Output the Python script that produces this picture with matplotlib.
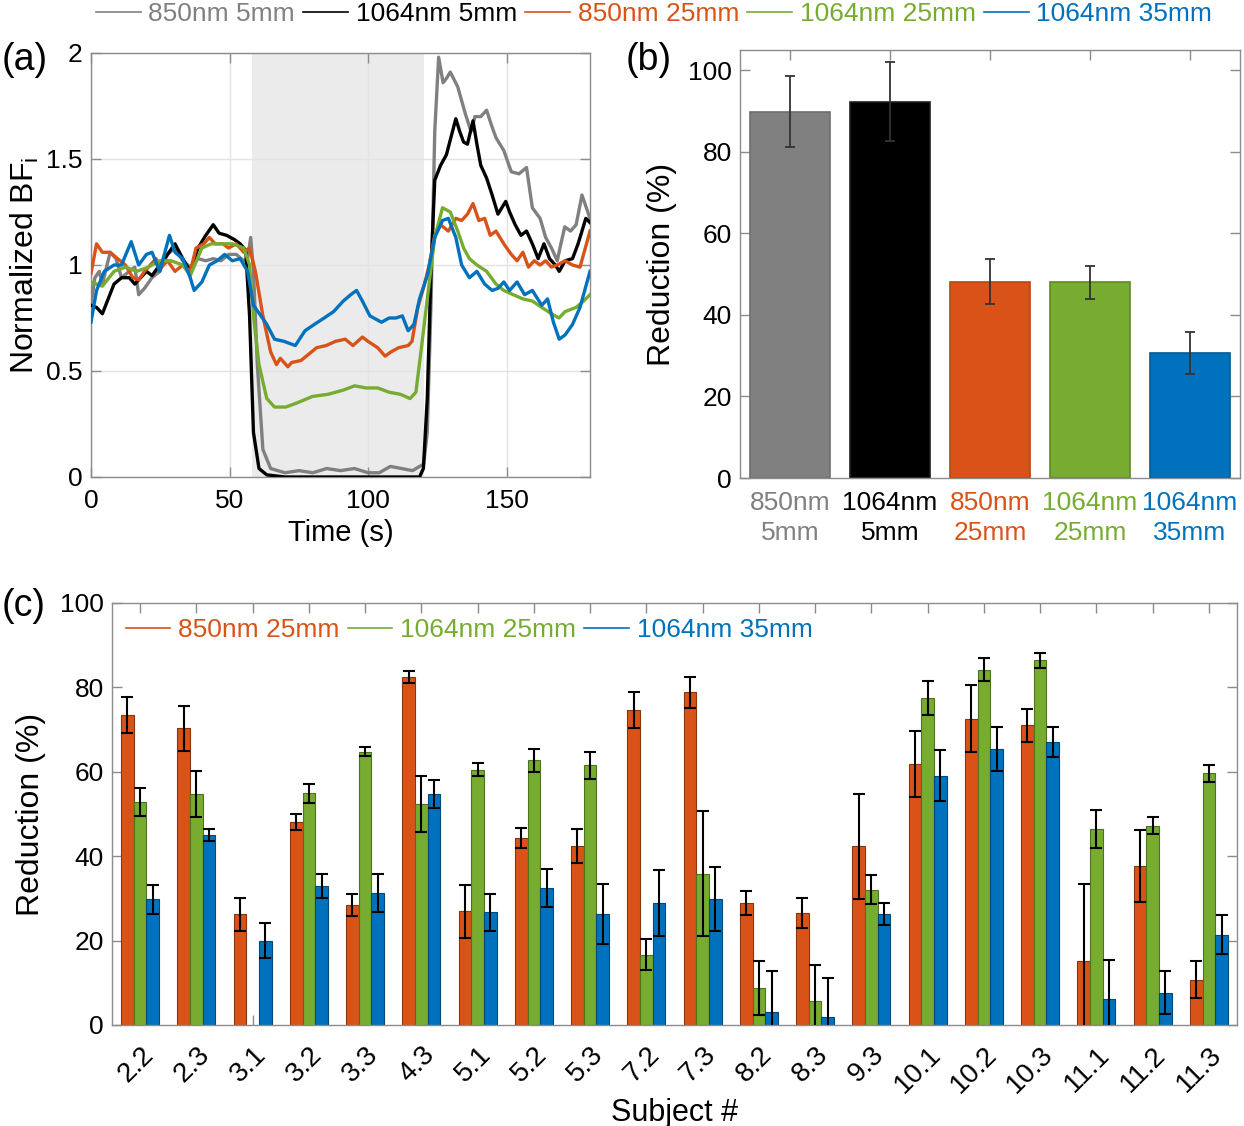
import numpy as np
import matplotlib
matplotlib.use("Agg")
import matplotlib.pyplot as plt
from matplotlib.lines import Line2D

plt.rcParams['font.family'] = ['Liberation Sans', 'DejaVu Sans']
plt.rcParams['mathtext.fontset'] = 'custom'
plt.rcParams['mathtext.rm'] = 'Liberation Sans'

# ---- colours (MATLAB-like)
GRAY = '#808080'
BLACK = '#000000'
ORANGE = '#D95319'
GREEN = '#77AC30'
BLUE = '#0072BD'

# ---- panel (a): normalized BFi time courses
gray_t = [0, 1.4, 3, 4.1, 6.9, 9, 11, 13.8, 15.8, 17.2, 19.3, 22, 24.8, 27.6, 30.3, 33.1, 35.8, 38.6, 41.4, 44.1,
          46.9, 49.6, 52.4, 55.1, 56.5, 57.6, 58.6, 60, 62, 64.8, 70, 75, 80, 85, 90, 95, 100, 104, 108, 112,
          116, 118.5, 120, 121.3, 122.7, 124, 125.4, 127, 128.2, 129.6, 132.3, 135.1, 137.1, 138.5, 140.6, 142.7,
          144.7, 146.1, 148.9, 151.6, 154.4, 157.1, 159.2, 162, 164, 166.1, 168.2, 169.5, 170.9, 173, 175, 177.1, 180]
gray_v = [0.81, 0.94, 0.97, 0.91, 1.06, 1.03, 0.94, 0.97, 0.99, 0.86, 0.89, 0.94, 0.97, 1.05, 1.08, 1.02, 0.99, 1.03, 1.02, 1.03,
          1.02, 1.05, 1.05, 1.02, 1.03, 1.13, 0.97, 0.53, 0.13, 0.04, 0.02, 0.03, 0.02, 0.04, 0.03, 0.04, 0.02, 0.02, 0.05, 0.04,
          0.03, 0.05, 0.06, 0.21, 0.84, 1.63, 1.98, 1.86, 1.88, 1.91, 1.84, 1.71, 1.63, 1.70, 1.70, 1.73,
          1.65, 1.60, 1.54, 1.44, 1.43, 1.46, 1.27, 1.22, 1.13, 1.08, 1.02, 1.10, 1.18, 1.16, 1.19, 1.33, 1.22]

black_t = [0, 2, 4.1, 6.2, 8.3, 11, 13.8, 15.8, 17.9, 20, 22, 24.8, 27.6, 30.3, 33.1, 35.8, 38.6, 41.4, 44.1, 46.2,
           48.9, 51.7, 53.8, 55.8, 57.2, 58.6, 60.6, 63.4, 70, 80, 90, 100, 110, 118.5, 119.9, 121.3, 122.7, 124, 126.1, 128.2,
           130.2, 131.6, 133, 134.4, 135.8, 137.8, 139.2, 140.6, 142.7, 144.7, 146.8, 148.2, 149.6, 151, 153, 155.1, 157.1,
           159.2, 161.3, 163.4, 165.4, 167.5, 168.9, 171, 173.7, 175.7, 178.5, 180]
black_v = [0.81, 0.80, 0.77, 0.84, 0.91, 0.94, 0.94, 0.91, 0.94, 0.97, 0.95, 1.0, 1.05, 1.10, 1.03, 0.97, 1.08, 1.14, 1.19, 1.15,
           1.14, 1.12, 1.10, 1.07, 0.76, 0.21, 0.04, 0.01, 0.0, 0.0, 0.0, 0.0, 0.0, 0.0, 0.04, 0.37, 1.0, 1.40, 1.47, 1.52,
           1.62, 1.69, 1.63, 1.58, 1.57, 1.68, 1.57, 1.47, 1.41, 1.33, 1.24, 1.27, 1.30, 1.25, 1.19, 1.14, 1.16,
           1.10, 1.03, 1.10, 1.03, 1.0, 0.97, 1.02, 1.03, 1.10, 1.22, 1.20]

orange_t = [0, 2, 4.1, 6.9, 9.6, 12.4, 15.1, 17.2, 19.3, 21.4, 23.4, 25.5, 27.6, 30.3, 33.1, 35.8, 37.9, 40.7, 42.7, 44.8,
            47.6, 49.6, 52.4, 55.1, 57.2, 59.3, 62, 64.8, 66.9, 68.3, 71, 72.4, 75.8, 78.6, 81.4, 84.8, 88.2, 91.7, 94.5, 97.9,
            99.9, 103.4, 106.1, 108.2, 111, 114.4, 115.8, 117.9, 119.9, 122, 124, 126.1, 128.9, 131.6, 133.7, 135.8, 137.8,
            139.9, 142, 144, 146.1, 148.9, 151.6, 153.7, 155.8, 157.8, 159.9, 162, 164, 166.1, 168.2, 171, 173.7, 176.4, 180]
orange_v = [0.96, 1.10, 1.06, 1.06, 1.03, 1.0, 0.94, 0.93, 0.97, 1.0, 1.03, 0.99, 1.02, 0.97, 1.0, 0.97, 1.08, 1.10, 1.13, 1.10,
            1.10, 1.08, 1.10, 1.06, 1.08, 0.97, 0.76, 0.59, 0.53, 0.56, 0.52, 0.54, 0.55, 0.58, 0.61, 0.62, 0.64, 0.65, 0.62, 0.66,
            0.64, 0.61, 0.57, 0.59, 0.61, 0.62, 0.64, 0.80, 0.89, 1.0, 1.14, 1.19, 1.16, 1.22, 1.21, 1.24, 1.29,
            1.21, 1.22, 1.14, 1.16, 1.10, 1.05, 1.02, 1.06, 0.99, 1.02, 1.0, 1.02, 0.99, 1.0, 1.02, 1.0, 0.99, 1.16]

green_t = [0, 4.1, 8.3, 12.4, 16.5, 20.7, 24.8, 28.9, 33.1, 35.8, 40, 43.4, 47.2, 51, 55.1, 57.2, 58.6, 60.6, 63.4, 66.2,
           70.3, 74.4, 79.9, 85.5, 91, 95.1, 99.2, 103.4, 107.5, 111.6, 115.1, 117.2, 119.2, 121.3, 124, 126.8, 129.6,
           132.3, 134.4, 136.5, 139.2, 142.7, 146.1, 148.9, 152.3, 155.8, 159.2, 162.6, 166.1, 168.8, 171, 175, 177.7, 180]
green_v = [0.92, 0.90, 0.97, 0.99, 0.97, 0.99, 1.02, 1.02, 1.0, 0.95, 1.08, 1.10, 1.10, 1.10, 1.08, 1.0, 0.76, 0.53, 0.37, 0.33,
           0.33, 0.35, 0.38, 0.39, 0.41, 0.43, 0.42, 0.42, 0.40, 0.39, 0.37, 0.40, 0.61, 0.84, 1.13, 1.27, 1.25,
           1.16, 1.08, 1.03, 1.0, 0.97, 0.91, 0.88, 0.86, 0.84, 0.83, 0.80, 0.77, 0.75, 0.78, 0.80, 0.83, 0.86]

blue_t = [0, 2, 4.8, 8.3, 11, 14.5, 17.2, 20, 22, 24.8, 28.3, 30.3, 33.1, 35.8, 37.2, 40, 42.7, 45.5, 48.2, 51,
          53.8, 56.5, 58.6, 61.3, 63.4, 66.2, 69.6, 73.7, 77.2, 80.6, 84.1, 87.5, 91, 93.7, 95.8, 97.9, 100.6, 104.8, 107.5, 110,
          112.3, 114.4, 116.5, 118.5, 121.3, 124, 126.8, 128.9, 131.6, 133.7, 136.5, 139.2, 142, 144.7, 146.8, 148.9,
          151, 153.7, 156.4, 159.2, 162.6, 164.7, 166.8, 168.9, 171, 173.7, 176.4, 180]
blue_v = [0.73, 0.88, 0.97, 1.0, 1.0, 1.11, 1.0, 1.05, 1.06, 0.97, 1.14, 1.06, 1.03, 0.94, 0.88, 0.92, 1.0, 1.02, 1.05, 1.02,
          1.03, 0.97, 0.81, 0.76, 0.72, 0.65, 0.64, 0.62, 0.69, 0.72, 0.75, 0.78, 0.83, 0.86, 0.88, 0.83, 0.76, 0.73, 0.75, 0.75,
          0.76, 0.69, 0.72, 0.84, 0.95, 1.13, 1.21, 1.22, 1.13, 1.0, 0.94, 0.97, 0.91, 0.88, 0.89, 0.92,
          0.88, 0.92, 0.86, 0.88, 0.81, 0.84, 0.73, 0.65, 0.67, 0.72, 0.80, 0.97]

occlusion = (58, 120)

# ---- panel (b): mean reduction per configuration
b_labels = ['850nm\n5mm', '1064nm\n5mm', '850nm\n25mm', '1064nm\n25mm', '1064nm\n35mm']
b_means = [89.9, 92.3, 48.2, 48.0, 30.7]
b_err = [8.7, 9.7, 5.5, 4.1, 5.2]

# ---- panel (c): per-subject reduction
subjects = ['2.2', '2.3', '3.1', '3.2', '3.3', '4.3', '5.1', '5.2', '5.3', '7.2',
            '7.3', '8.2', '8.3', '9.3', '10.1', '10.2', '10.3', '11.1', '11.2', '11.3']
red_850_25 = [73.4, 70.3, 26.2, 48.1, 28.5, 82.4, 26.9, 44.3, 42.5, 74.6,
              78.8, 28.9, 26.5, 42.3, 61.9, 72.6, 71.0, 15.2, 37.7, 10.7]
err_850_25 = [4.3, 5.3, 4.0, 2.0, 2.6, 1.4, 6.3, 2.4, 4.0, 4.3,
              3.6, 2.8, 3.5, 12.4, 7.8, 7.9, 3.9, 18.3, 8.6, 4.4]
red_1064_25 = [52.8, 54.7, np.nan, 54.9, 64.8, 52.3, 60.5, 62.7, 61.6, 16.7,
               35.8, 8.7, 5.8, 32.1, 77.5, 84.2, 86.4, 46.5, 47.2, 59.6]
err_1064_25 = [3.3, 5.4, np.nan, 2.3, 1.1, 6.6, 1.6, 2.8, 3.2, 3.6,
               14.8, 6.4, 8.5, 3.5, 4.1, 2.8, 1.8, 4.5, 2.0, 2.0]
red_1064_35 = [29.8, 45.1, 20.0, 33.0, 31.3, 54.7, 26.7, 32.5, 26.3, 29.0,
               29.9, 3.0, 1.8, 26.3, 59.1, 65.4, 67.0, 6.2, 7.6, 21.4]
err_1064_35 = [3.4, 1.4, 4.2, 2.9, 4.5, 3.3, 4.4, 4.5, 7.0, 7.8,
               7.6, 9.7, 9.3, 2.7, 6.0, 5.3, 3.6, 9.3, 5.1, 4.6]

W, H = 1244, 1126
FS = 19
fig = plt.figure(figsize=(W / 100, H / 100), dpi=100)


def box_style(ax):
    for s in ax.spines.values():
        s.set_color('#8c8c8c')
        s.set_linewidth(1.0)
    ax.tick_params(direction='in', length=7, width=1, color='#8c8c8c',
                   labelcolor='black', labelsize=FS, top=True, right=True, pad=6)


# ================= (a)
ax_a = fig.add_axes([91 / W, 1 - 477 / H, (590 - 91) / W, (477 - 53) / H])
ax_a.axvspan(*occlusion, color='#ebebeb', lw=0, zorder=0)
series_a = [(gray_t, gray_v, GRAY), (black_t, black_v, BLACK), (orange_t, orange_v, ORANGE),
            (green_t, green_v, GREEN), (blue_t, blue_v, BLUE)]
for t, v, c in series_a:
    ax_a.plot(t, v, color=c, lw=2.4, zorder=3)
ax_a.set_xlim(0, 180)
ax_a.set_ylim(0, 2)
ax_a.set_xticks([0, 50, 100, 150])
ax_a.set_yticks([0, 0.5, 1, 1.5, 2])
ax_a.set_yticklabels(['0', '0.5', '1', '1.5', '2'])
ax_a.grid(True, color='#e3e3e3', lw=1, zorder=1)
ax_a.set_axisbelow(True)
box_style(ax_a)
ax_a.tick_params(axis='x', pad=9)
ax_a.set_xlabel('Time (s)', fontsize=21, labelpad=4)
ax_a.set_ylabel('Normalized BF$_\\mathregular{i}$', fontsize=23, labelpad=4)

# ================= (b)
ax_b = fig.add_axes([740 / W, 1 - 478 / H, (1240 - 740) / W, (478 - 50) / H])
b_colors = [GRAY, BLACK, ORANGE, GREEN, BLUE]
b_edges = ['#6e6e6e', '#202020', '#b84612', '#5f8a25', '#005a96']
xb = np.arange(1, len(b_means) + 1)
ax_b.bar(xb, b_means, width=0.8, color=b_colors, edgecolor=b_edges, lw=1.2, zorder=2)
ax_b.errorbar(xb, b_means, yerr=b_err, fmt='none', ecolor='#333333', elinewidth=1.3,
              capsize=3.5, capthick=1.3, zorder=3)
ax_b.set_xlim(0.5, 5.5)
ax_b.set_ylim(0, 105)
ax_b.set_yticks(range(0, 101, 20))
ax_b.set_xticks(xb)
ax_b.set_xticklabels(b_labels, linespacing=1.35)
box_style(ax_b)
ax_b.tick_params(axis='x', pad=9)
for lbl, c in zip(ax_b.get_xticklabels(), b_colors):
    lbl.set_color(c)
ax_b.set_ylabel('Reduction (%)', fontsize=23, labelpad=8)

# ================= (c)
ax_c = fig.add_axes([112 / W, 1 - 1025 / H, (1237 - 112) / W, (1025 - 603) / H])
xc = np.arange(1, len(subjects) + 1)
bw = 0.225
groups = [(red_850_25, err_850_25, ORANGE, '#8a3510', -bw, '850nm 25mm'),
          (red_1064_25, err_1064_25, GREEN, '#4e7220', 0, '1064nm 25mm'),
          (red_1064_35, err_1064_35, BLUE, '#004a7a', bw, '1064nm 35mm')]
for vals, errs, c, ec, off, name in groups:
    ax_c.bar(xc + off, vals, width=bw, color=c, edgecolor=ec, lw=0.8, zorder=2)
    ax_c.errorbar(xc + off, vals, yerr=errs, fmt='none', ecolor='black', elinewidth=1.5,
                  capsize=4, capthick=1.5, zorder=3)
ax_c.set_xlim(0.5, len(subjects) + 0.5)
ax_c.set_ylim(0, 100)
ax_c.set_yticks(range(0, 101, 20))
ax_c.set_xticks(xc)
ax_c.set_xticklabels(subjects, rotation=45, ha='right', rotation_mode='anchor')
box_style(ax_c)
ax_c.tick_params(axis='x', pad=12, labelsize=20)
ax_c.set_xlabel('Subject #', fontsize=22, labelpad=0)
ax_c.set_ylabel('Reduction (%)', fontsize=23, labelpad=10)
c_handles = [Line2D([], [], color=g[2], lw=1.2) for g in groups]
ax_c.legend(c_handles, [g[5] for g in groups], loc='upper left', bbox_to_anchor=(0.012, 0.965),
            ncol=3, frameon=False, fontsize=FS, labelcolor='linecolor', handlelength=1.7,
            handletextpad=0.3, columnspacing=0.3, borderaxespad=0, borderpad=0)

# ================= top legend
top_names = ['850nm 5mm', '1064nm 5mm', '850nm 25mm', '1064nm 25mm', '1064nm 35mm']
top_handles = [Line2D([], [], color=c, lw=1.2) for c in b_colors]
fig.legend(top_handles, top_names, loc='center', bbox_to_anchor=(654 / W, 1 - 14 / H), ncol=5,
           frameon=False, fontsize=FS, labelcolor='linecolor', handlelength=1.7,
           handletextpad=0.3, columnspacing=0.3, borderaxespad=0, borderpad=0)

# panel letters
fig.text(2 / W, 1 - 60 / H, '(a)', fontsize=27, va='center', ha='left')
fig.text(626 / W, 1 - 60 / H, '(b)', fontsize=27, va='center', ha='left')
fig.text(2 / W, 1 - 606 / H, '(c)', fontsize=27, va='center', ha='left')

fig.savefig('out.png', dpi=100)
